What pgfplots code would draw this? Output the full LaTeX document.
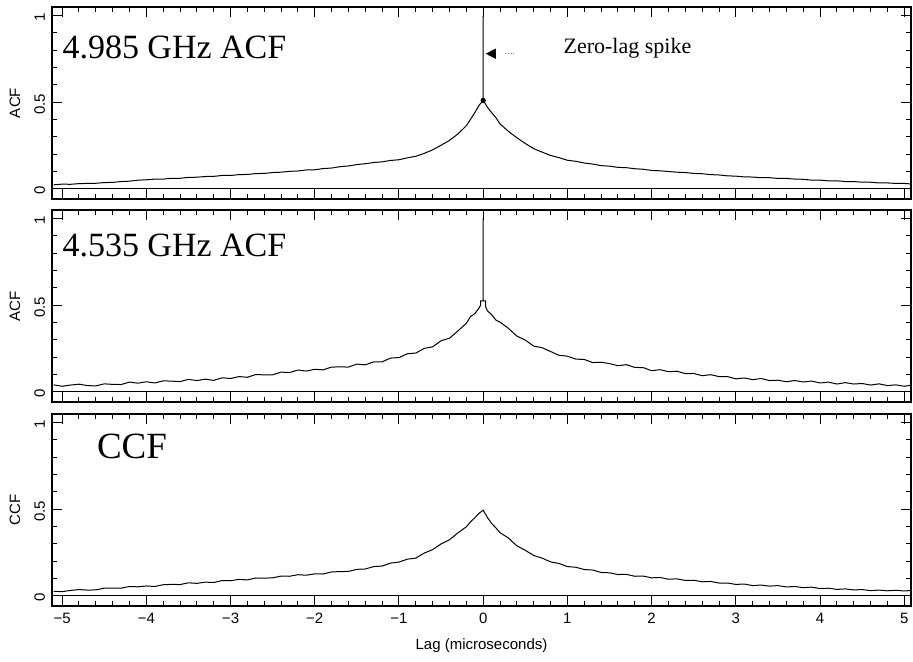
\documentclass[border=0pt]{standalone}
\usepackage{fontspec}
\setmainfont{Liberation Serif}
\newfontfamily\ticksfont{Liberation Sans}
\usepackage{pgfplots}
\pgfplotsset{compat=1.18}
\pgfplotsset{panel/.style={
  scale only axis, width=429.5pt, height=96pt,
  xmin=-5.12, xmax=5.08, ymin=-0.06, ymax=1.05,
  xtick={-5,-4,-3,-2,-1,0,1,2,3,4,5},
  ytick={0,0.5,1}, yticklabels={0,0.5,1},
  minor x tick num=4, minor y tick num=4,
  tick align=inside, major tick length=5pt, minor tick length=2.5pt,
  axis line style={line width=0.6pt},
  tick style={line width=0.5pt, black},
  tick label style={font=\ticksfont\fontsize{7.5}{9}\selectfont},
  yticklabel style={rotate=90, anchor=south, xshift=-1pt},
  label style={font=\ticksfont\fontsize{7.5}{9}\selectfont},
  ylabel style={at={(axis description cs:-0.0431,0.5)}, anchor=center},
  clip=false,
}}
\begin{document}
\begin{tikzpicture}
\path[use as bounding box] (0,0) rectangle (456.5pt,330.5pt);
% ---------------- panel 1
\begin{axis}[panel, at={(26pt,327pt)}, anchor=north west, xticklabels={}, ylabel={ACF}]
\addplot[line width=0.4pt] coordinates {(-5.12,0) (5.08,0)};
\addplot[line width=0.5pt] coordinates {
(-5.1,0.022) (-5.0,0.026) (-4.9,0.025) (-4.8,0.029) (-4.7,0.030) (-4.6,0.031) (-4.5,0.035)
(-4.4,0.036) (-4.3,0.041) (-4.2,0.043) (-4.1,0.049) (-4.0,0.051) (-3.9,0.055) (-3.8,0.055)
(-3.7,0.060) (-3.6,0.060) (-3.5,0.065) (-3.4,0.066) (-3.3,0.070) (-3.2,0.071) (-3.1,0.076)
(-3.0,0.076) (-2.9,0.081) (-2.8,0.082) (-2.7,0.087) (-2.6,0.088) (-2.5,0.093) (-2.4,0.095)
(-2.3,0.100) (-2.2,0.102) (-2.1,0.108) (-2.0,0.109) (-1.9,0.116) (-1.8,0.119) (-1.7,0.127)
(-1.6,0.131) (-1.5,0.139) (-1.4,0.144) (-1.3,0.151) (-1.2,0.155) (-1.1,0.163) (-1.0,0.167)
(-0.9,0.178) (-0.8,0.187) (-0.7,0.204) (-0.6,0.224) (-0.5,0.251) (-0.4,0.279) (-0.3,0.316)
(-0.2,0.364) (-0.15,0.401) (-0.1,0.439) (-0.05,0.481) (0,0.51) (0,1.0) (0,0.51)
(0.05,0.471) (0.1,0.439) (0.15,0.411) (0.2,0.374) (0.3,0.331) (0.4,0.294) (0.5,0.261)
(0.6,0.231) (0.7,0.211) (0.8,0.192) (0.9,0.179) (1.0,0.164) (1.1,0.158) (1.2,0.148)
(1.3,0.142) (1.4,0.133) (1.5,0.130) (1.6,0.123) (1.7,0.121) (1.8,0.115) (1.9,0.112)
(2.0,0.105) (2.1,0.103) (2.2,0.099) (2.3,0.095) (2.4,0.093) (2.5,0.088) (2.6,0.086)
(2.7,0.081) (2.8,0.079) (2.9,0.074) (3.0,0.072) (3.1,0.068) (3.2,0.067) (3.3,0.063)
(3.4,0.063) (3.5,0.059) (3.6,0.059) (3.7,0.055) (3.8,0.054) (3.9,0.049) (4.0,0.049)
(4.1,0.045) (4.2,0.045) (4.3,0.041) (4.4,0.041) (4.5,0.037) (4.6,0.037) (4.7,0.033)
(4.8,0.033) (4.9,0.030) (5.0,0.030) (5.08,0.027)};
\addplot[only marks, mark=*, mark size=1.1pt] coordinates {(0,0.51)};
\node[anchor=base west, font=\fontsize{17}{20}\selectfont, inner sep=0pt] at (axis cs:-5.0,0.753) {4.985 GHz ACF};
\node[anchor=base west, font=\fontsize{11}{13}\selectfont, inner sep=0pt] at (axis cs:0.95,0.782) {Zero-lag spike};
\fill (axis cs:0.03,0.78) -- (axis cs:0.15,0.81) -- (axis cs:0.15,0.75) -- cycle;
\draw[densely dotted, gray, line width=0.4pt] (axis cs:0.26,0.78) -- (axis cs:0.37,0.78);
\end{axis}
% ---------------- panel 2
\begin{axis}[panel, at={(26pt,225.5pt)}, anchor=north west, xticklabels={}, ylabel={ACF}]
\addplot[line width=0.4pt] coordinates {(-5.12,0) (5.08,0)};
\addplot[line width=0.5pt] coordinates {
(-5.1,0.039) (-5.0,0.031) (-4.9,0.038) (-4.8,0.043) (-4.7,0.035) (-4.6,0.033) (-4.5,0.045)
(-4.4,0.042) (-4.3,0.041) (-4.2,0.055) (-4.1,0.049) (-4.0,0.057) (-3.9,0.050) (-3.8,0.062)
(-3.7,0.061) (-3.6,0.058) (-3.5,0.071) (-3.4,0.064) (-3.3,0.072) (-3.2,0.065) (-3.1,0.080)
(-3.0,0.076) (-2.9,0.087) (-2.8,0.083) (-2.7,0.099) (-2.6,0.097) (-2.5,0.097) (-2.4,0.113)
(-2.3,0.110) (-2.2,0.125) (-2.1,0.119) (-2.0,0.129) (-1.9,0.126) (-1.8,0.142) (-1.7,0.143)
(-1.6,0.142) (-1.5,0.159) (-1.4,0.155) (-1.3,0.172) (-1.2,0.172) (-1.1,0.194) (-1.0,0.197)
(-0.9,0.219) (-0.8,0.223) (-0.7,0.250) (-0.6,0.259) (-0.5,0.294) (-0.4,0.309) (-0.3,0.351)
(-0.2,0.395) (-0.15,0.434) (-0.1,0.451) (-0.05,0.483) (-0.03,0.500) (-0.03,0.525)
(0,0.525) (0,1.0) (0,0.525) (0.03,0.525) (0.03,0.490)
(0.05,0.467) (0.1,0.445) (0.15,0.414) (0.2,0.402) (0.3,0.366) (0.4,0.321) (0.5,0.298)
(0.6,0.263) (0.7,0.254) (0.8,0.232) (0.9,0.210) (1.0,0.205) (1.1,0.188) (1.2,0.186)
(1.3,0.168) (1.4,0.170) (1.5,0.162) (1.6,0.150) (1.7,0.156) (1.8,0.140) (1.9,0.139)
(2.0,0.121) (2.1,0.127) (2.2,0.115) (2.3,0.118) (2.4,0.104) (2.5,0.105) (2.6,0.092)
(2.7,0.098) (2.8,0.087) (2.9,0.087) (3.0,0.074) (3.1,0.079) (3.2,0.069) (3.3,0.076)
(3.4,0.064) (3.5,0.066) (3.6,0.057) (3.7,0.064) (3.8,0.056) (3.9,0.061) (4.0,0.050)
(4.1,0.055) (4.2,0.044) (4.3,0.052) (4.4,0.044) (4.5,0.047) (4.6,0.038) (4.7,0.045)
(4.8,0.035) (4.9,0.039) (5.0,0.031) (5.08,0.037)};
\node[anchor=base west, font=\fontsize{17}{20}\selectfont, inner sep=0pt] at (axis cs:-5.0,0.78) {4.535 GHz ACF};
\end{axis}
% ---------------- panel 3
\begin{axis}[panel, at={(26pt,123.5pt)}, anchor=north west,
  xticklabels={−5,−4,−3,−2,−1,0,1,2,3,4,5}, ylabel={CCF},
  xlabel={Lag (microseconds)},
  xlabel style={at={(axis description cs:0.5,0)}, anchor=center, yshift=-20pt}]
\addplot[line width=0.4pt] coordinates {(-5.12,0) (5.08,0)};
\addplot[line width=0.5pt] coordinates {
(-5.1,0.025) (-5.0,0.023) (-4.9,0.030) (-4.8,0.035) (-4.7,0.032) (-4.6,0.033) (-4.5,0.043)
(-4.4,0.043) (-4.3,0.043) (-4.2,0.053) (-4.1,0.051) (-4.0,0.056) (-3.9,0.053) (-3.8,0.063)
(-3.7,0.065) (-3.6,0.064) (-3.5,0.074) (-3.4,0.071) (-3.3,0.078) (-3.2,0.076) (-3.1,0.087)
(-3.0,0.086) (-2.9,0.094) (-2.8,0.091) (-2.7,0.102) (-2.6,0.101) (-2.5,0.103) (-2.4,0.113)
(-2.3,0.112) (-2.2,0.121) (-2.1,0.118) (-2.0,0.126) (-1.9,0.125) (-1.8,0.137) (-1.7,0.139)
(-1.6,0.140) (-1.5,0.152) (-1.4,0.154) (-1.3,0.168) (-1.2,0.171) (-1.1,0.188) (-1.0,0.194)
(-0.9,0.211) (-0.8,0.217) (-0.7,0.246) (-0.6,0.266) (-0.5,0.299) (-0.4,0.323) (-0.3,0.363)
(-0.2,0.398) (-0.15,0.427) (-0.1,0.450) (-0.05,0.476) (0,0.494)
(0.05,0.452) (0.1,0.418) (0.15,0.392) (0.2,0.364) (0.3,0.333) (0.4,0.288) (0.5,0.262)
(0.6,0.232) (0.7,0.217) (0.8,0.195) (0.9,0.186) (1.0,0.168) (1.1,0.164) (1.2,0.151)
(1.3,0.148) (1.4,0.134) (1.5,0.132) (1.6,0.122) (1.7,0.123) (1.8,0.112) (1.9,0.113)
(2.0,0.103) (2.1,0.105) (2.2,0.095) (2.3,0.097) (2.4,0.088) (2.5,0.089) (2.6,0.080)
(2.7,0.082) (2.8,0.073) (2.9,0.073) (3.0,0.065) (3.1,0.067) (3.2,0.058) (3.3,0.061)
(3.4,0.055) (3.5,0.058) (3.6,0.050) (3.7,0.053) (3.8,0.046) (3.9,0.049) (4.0,0.041)
(4.1,0.043) (4.2,0.036) (4.3,0.039) (4.4,0.033) (4.5,0.035) (4.6,0.029) (4.7,0.032)
(4.8,0.028) (4.9,0.031) (5.0,0.027) (5.08,0.030)};
\node[anchor=base west, font=\fontsize{18.5}{22}\selectfont, inner sep=0pt] at (axis cs:-4.59,0.79) {CCF};
\end{axis}
\end{tikzpicture}
\end{document}
